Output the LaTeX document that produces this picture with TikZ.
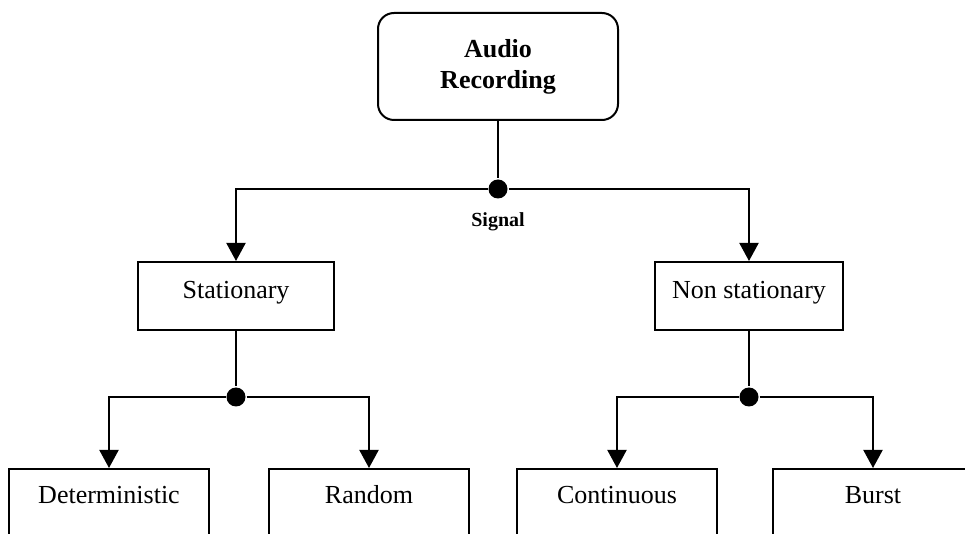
\documentclass[tikz,border=0pt]{standalone}
\usepackage{fontspec}
\setmainfont{Liberation Serif}
\usetikzlibrary{arrows.meta,positioning}

\begin{document}
\begin{tikzpicture}[
x=0.5pt, y=-0.5pt,
line width=1pt,
font=\fontsize{13}{15.5}\selectfont,
root/.style={rectangle, draw, rounded corners=8pt, minimum width=120pt, minimum height=53.5pt, align=center, font=\fontsize{13}{15.5}\selectfont\bfseries},
class/.style={rectangle, draw, anchor=north, minimum width=98pt, minimum height=34pt, text height=9pt, text depth=6pt},
leaf/.style={class, minimum width=100pt, text depth=9pt},
junction/.style={circle, fill, inner sep=0pt, minimum size=9.5pt},
arrow/.style={-{Triangle[length=9pt, width=9.5pt]}}
]
\clip (0,0) rectangle (965,534);

\node[root] (audio) at (498,66.5) {Audio\\Recording};

\node[junction] (signal) at (498,189) {};
\node[below=2.5pt of signal, font=\fontsize{10}{12}\selectfont\bfseries] (signallabel) {Signal};

\node[class] (stationary) at (236,261) {Stationary};
\node[class, minimum width=94pt] (nonstationary) at (749,261) {Non stationary};

\node[junction] (statjoin) at (236,397) {};
\node[junction] (nonstatjoin) at (749,397) {};

\node[leaf] (deterministic) at (109,468) {Deterministic};
\node[leaf] (random) at (369,468) {Random};
\node[leaf] (continuous) at (617,468) {Continuous};
\node[leaf] (burst) at (873,468) {Burst};

\draw (audio) -- (signal);
\draw[arrow] (signal) -| (stationary);
\draw[arrow] (signal) -| (nonstationary);

\draw (stationary) -- (statjoin);
\draw[arrow] (statjoin) -| (deterministic);
\draw[arrow] (statjoin) -| (random);

\draw (nonstationary) -- (nonstatjoin);
\draw[arrow] (nonstatjoin) -| (continuous);
\draw[arrow] (nonstatjoin) -| (burst);

\end{tikzpicture}
\end{document}
